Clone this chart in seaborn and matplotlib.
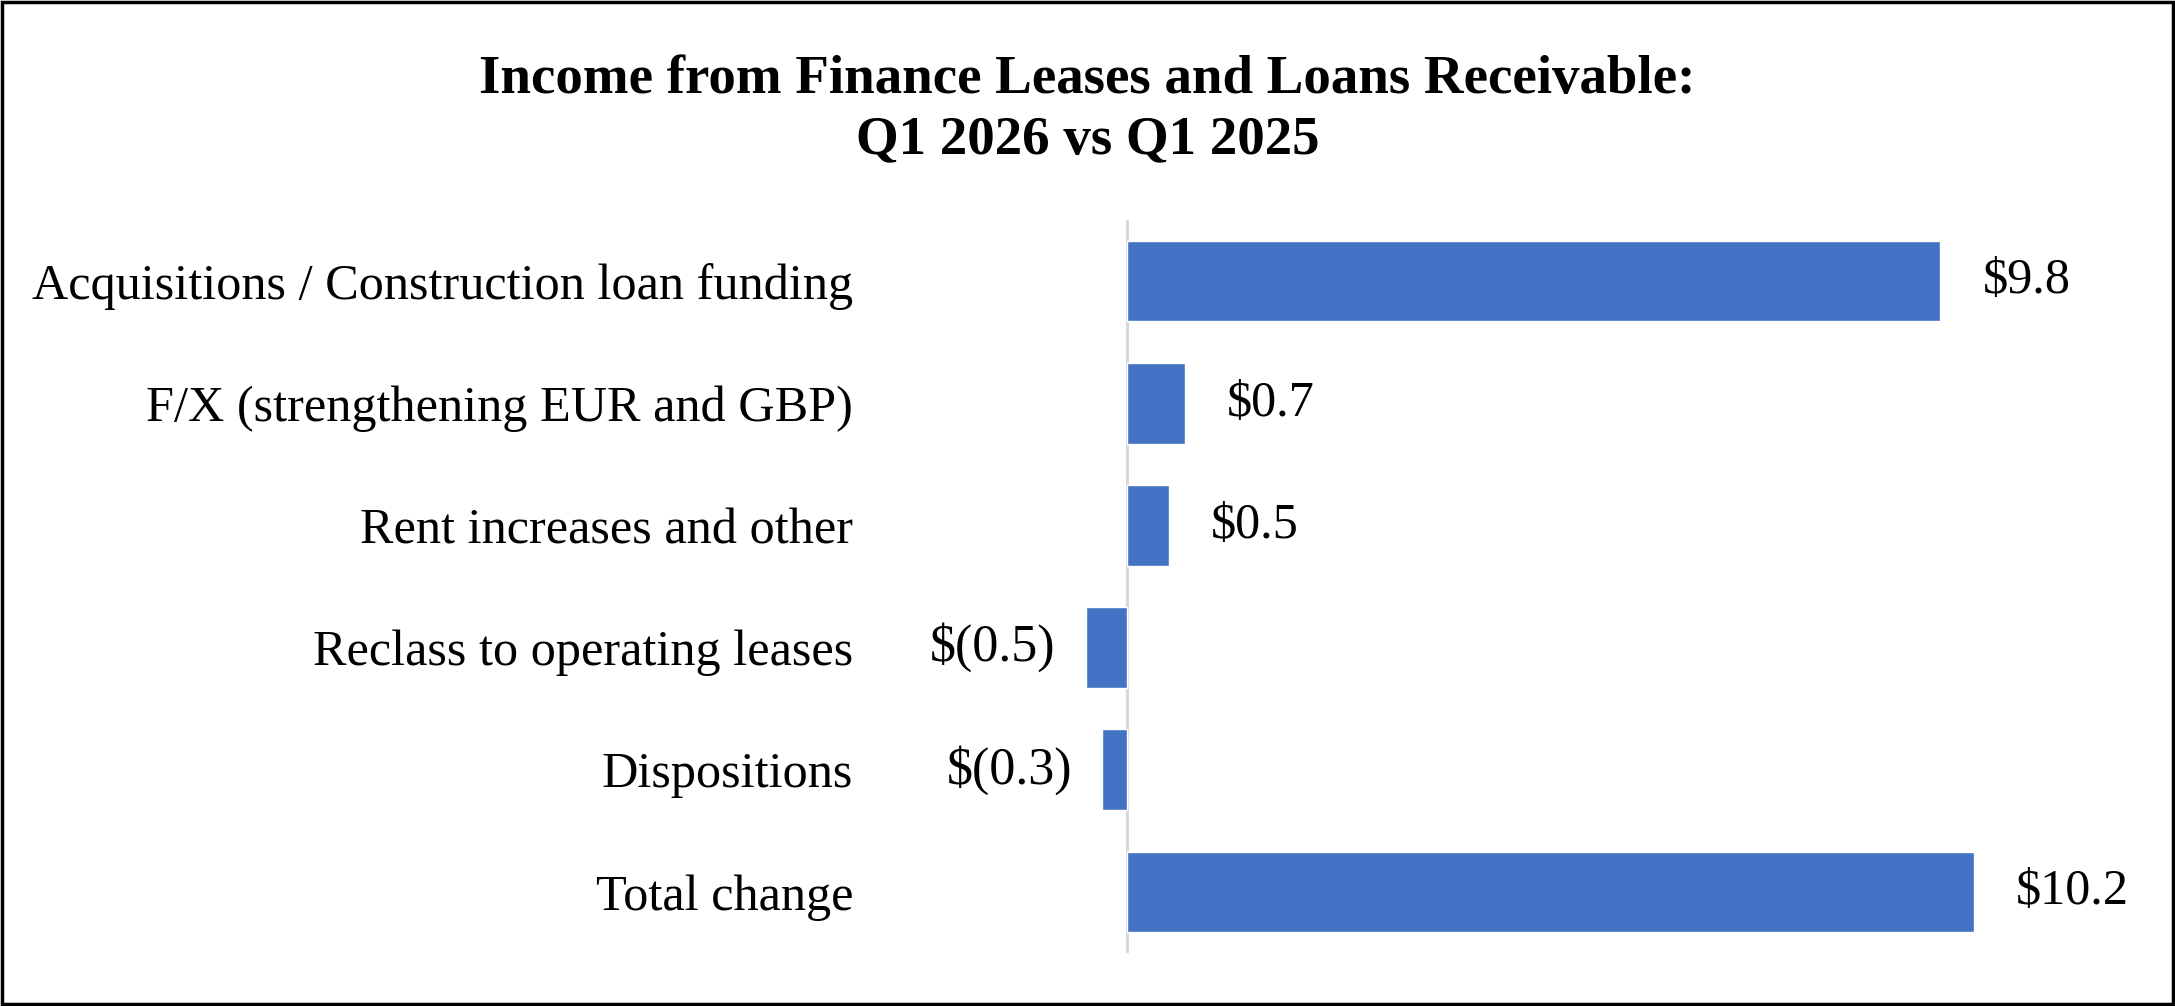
import matplotlib
matplotlib.use("Agg")
import matplotlib.pyplot as plt
import seaborn as sns
import pandas as pd
from matplotlib.patches import Rectangle

categories = [
    "Acquisitions / Construction loan funding",
    "F/X (strengthening EUR and GBP)",
    "Rent increases and other",
    "Reclass to operating leases",
    "Dispositions",
    "Total change",
]
values = [9.8, 0.7, 0.5, -0.5, -0.3, 10.2]
value_labels = ["$9.8", "$0.7", "$0.5", "$(0.5)", "$(0.3)", "$10.2"]
title = "Income from Finance Leases and Loans Receivable:\nQ1 2026 vs Q1 2025"

sns.set_theme(style="white")
plt.rcParams["font.family"] = ["Liberation Serif", "DejaVu Serif"]

W, H, DPI = 2175, 1006, 100
fig = plt.figure(figsize=(W / DPI, H / DPI), dpi=DPI)
fig.patch.set_facecolor("white")

# axes geometry in pixels
zero_px = 1127
ppu = 83.0
ax_left_px, ax_right_px = 870, 2150
ax_bottom_px, ax_top_px = 53, 786
ax = fig.add_axes([ax_left_px / W, ax_bottom_px / H,
                   (ax_right_px - ax_left_px) / W, (ax_top_px - ax_bottom_px) / H])

df = pd.DataFrame({"category": categories, "value": values})
sns.barplot(data=df, x="value", y="category", orient="h", color="#4472C4",
            saturation=1, width=0.66, ax=ax)

ax.set_xlim((ax_left_px - zero_px) / ppu, (ax_right_px - zero_px) / ppu)
ax.set_ylim(5.5, -0.5)
ax.axvline(0, color="#D9D9D9", lw=2.2, zorder=0)

for s in ax.spines.values():
    s.set_visible(False)
ax.set_xticks([])
ax.set_xlabel("")
ax.set_ylabel("")
ax.tick_params(axis="y", length=0, pad=12, labelsize=36.2)
for t in ax.get_yticklabels():
    t.set_fontfamily(["Liberation Serif", "DejaVu Serif"])
    t.set_color("black")

for i, (v, lab) in enumerate(zip(values, value_labels)):
    if v >= 0:
        ax.annotate(lab, xy=(v, i), xytext=(42, 0), textcoords="offset pixels",
                    ha="left", va="center", fontsize=36.2, color="black")
    else:
        ax.annotate(lab, xy=(v, i), xytext=(-30, 0), textcoords="offset pixels",
                    ha="right", va="center", fontsize=37.5, color="black")

fig.text(0.5, 1 - 110 / H, title, ha="center", va="center", fontsize=39.5,
         fontweight="bold", linespacing=1.28, color="black")

fig.patches.append(Rectangle((0.0008, 0.0015), 0.9984, 0.997, transform=fig.transFigure,
                             fill=False, edgecolor="black", linewidth=2.5, zorder=10))

fig.savefig("out.png", dpi=DPI, facecolor="white")
